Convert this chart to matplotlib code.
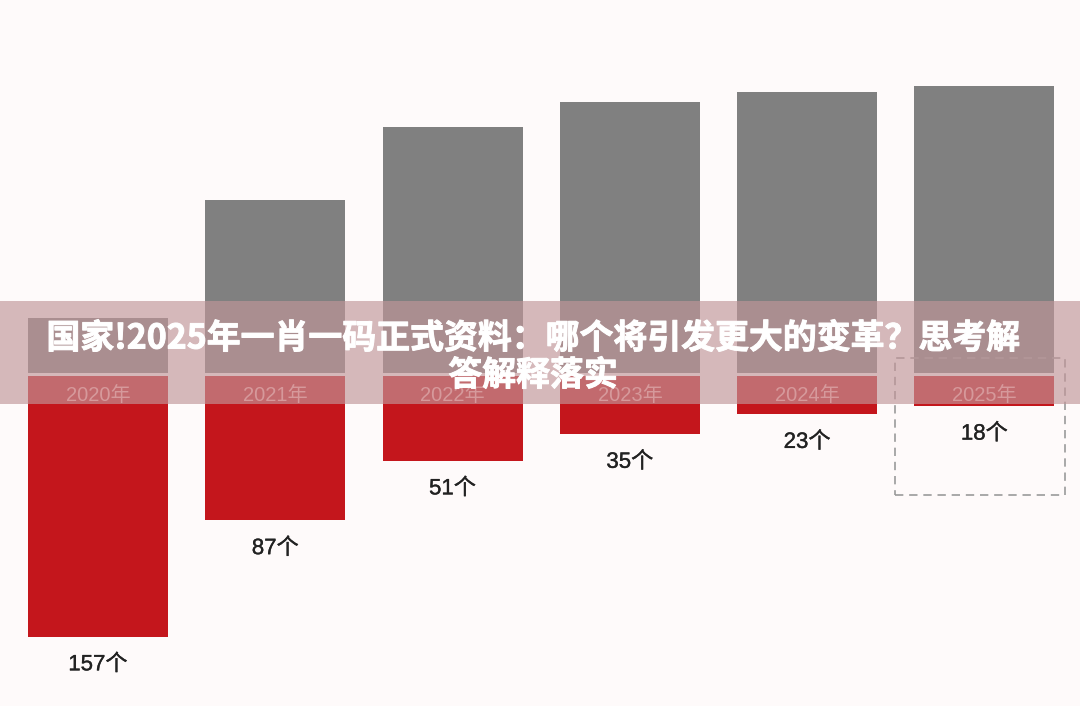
import matplotlib
matplotlib.use("Agg")
import matplotlib.pyplot as plt
import matplotlib.patheffects as pe
from matplotlib.patches import Rectangle

plt.rcParams['font.family'] = ['Noto Sans CJK SC', 'DejaVu Sans']

# ---- data ----
years = ["2020年", "2021年", "2022年", "2023年", "2024年", "2025年"]
counts = [157, 87, 51, 35, 23, 18]            # red bars (downwards)
gray_values = [33, 104, 148, 163, 169, 173]   # gray bars (upwards, unlabeled, estimated)
value_labels = ["157个", "87个", "51个", "35个", "23个", "18个"]
title_line1 = "国家!2025年一肖一码正式资料：哪个将引发更大的变革？思考解"
title_line2 = "答解释落实"

# ---- styling ----
W, H, DPI = 1080, 706, 100
bg = "#fefafa"
gray = "#808080"
red = "#c4161c"
gap = 0.9
bar_w = 0.79
num_font = ['Liberation Sans', 'Noto Sans CJK SC']

fig = plt.figure(figsize=(W / DPI, H / DPI), dpi=DPI, facecolor=bg)
ax = fig.add_axes([0, 0, 1, 1])
ax.set_facecolor(bg)
ax.set_xlim(-0.553, 5.539)
ax.set_ylim(-199.7, 225.6)
ax.axis("off")

x = list(range(len(years)))
ax.bar(x, gray_values, bottom=gap, width=bar_w, color=gray, zorder=2)
ax.bar(x, [-c for c in counts], bottom=-gap, width=bar_w, color=red, zorder=2)

for i, (yr, c, lab) in enumerate(zip(years, counts, value_labels)):
    ax.text(i, -gap - 12, yr, ha="center", va="center", fontsize=14.5,
            color="#ffa0a0", family=num_font, zorder=3)
    ax.text(i, -gap - c - 17, lab, ha="center", va="center", fontsize=16,
            color="#222222", family=num_font, zorder=3,
            path_effects=[pe.withStroke(linewidth=0.25, foreground="#222222")])

# dashed box around the 2025 column
last = len(years) - 1
box = Rectangle((last - 0.48 - 0.025, -72.6), 0.96, 82.6, fill=False,
                edgecolor="#9a9a9a", linestyle=(0, (5, 3.5)), linewidth=1.2,
                zorder=2)
ax.add_patch(box)

# translucent banner
fig.patches.append(Rectangle((0, 1 - 404 / H), 1, 103 / H, transform=fig.transFigure,
                             facecolor=(193 / 255, 150 / 255, 153 / 255), alpha=0.66,
                             edgecolor="none", zorder=5))

title_fx = [pe.withStroke(linewidth=0.7, foreground="white")]
fig.text(533 / W, 1 - 338 / H, title_line1, ha="center", va="center",
         fontsize=24.4, fontweight="heavy", color="white", zorder=6,
         path_effects=title_fx)
fig.text(533 / W, 1 - 375 / H, title_line2, ha="center", va="center",
         fontsize=24.4, fontweight="heavy", color="white", zorder=6,
         path_effects=title_fx)

fig.savefig("out.png", dpi=DPI, facecolor=bg)
